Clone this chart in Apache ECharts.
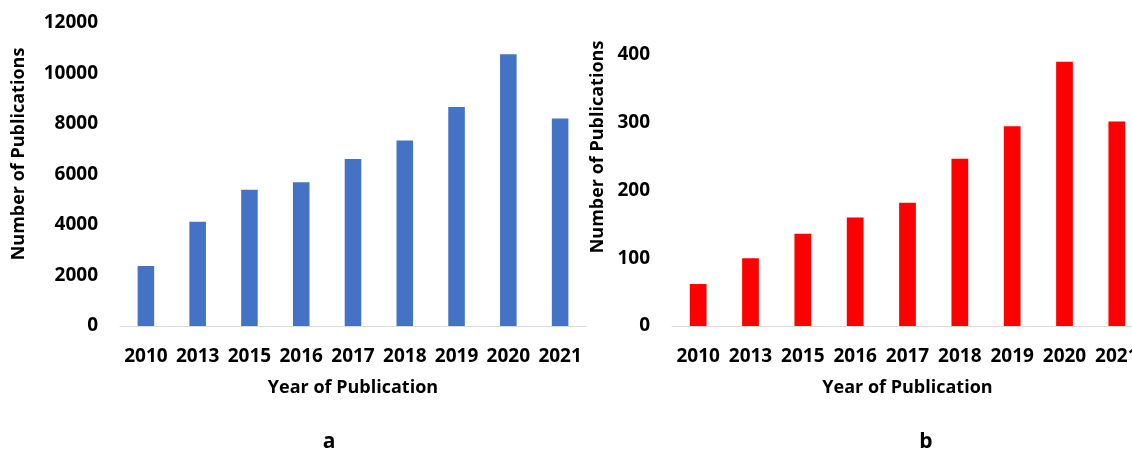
<!DOCTYPE html>
<html>
<head>
<meta charset="utf-8">
<script src="https://cdn.jsdelivr.net/npm/echarts@6/dist/echarts.min.js"></script>
<style>
html,body{margin:0;padding:0;background:#fff;}
#chart{width:1132px;height:450px;}
</style>
</head>
<body>
<div id="chart"></div>
<script>
var years = ['2010','2013','2015','2016','2017','2018','2019','2020','2021'];
var publicationsA = [2380, 4130, 5400, 5690, 6610, 7350, 8670, 10760, 8220];
var publicationsB = [62, 100, 136, 160, 182, 247, 295, 390, 302];
var yTicksA = {min: 0, max: 12000, interval: 2000};
var yTicksB = {min: 0, max: 400, interval: 100};
var xTitle = 'Year of Publication';
var yTitle = 'Number of Publications';
var panelLabels = ['a', 'b'];

var FONT = '"Open Sans", "Liberation Sans", sans-serif';
var TXT = '#000000';

var chart = echarts.init(document.getElementById('chart'), null, {renderer: 'canvas'});

function xAxisFor(idx) {
  return {
    type: 'category', gridIndex: idx, data: years,
    axisLine: {show: true, lineStyle: {color: '#D9D9D9', width: 1}},
    axisTick: {show: false},
    axisLabel: {color: TXT, fontFamily: FONT, fontWeight: 'bold', fontSize: 19, margin: 21, interval: 0, hideOverlap: false},
    name: xTitle, nameLocation: 'middle', nameGap: 53,
    nameTextStyle: {color: TXT, fontFamily: FONT, fontWeight: 'bold', fontSize: 18}
  };
}
function yAxisFor(idx, t) {
  return {
    type: 'value', gridIndex: idx, min: t.min, max: t.max, interval: t.interval,
    axisLine: {show: false}, axisTick: {show: false}, splitLine: {show: false},
    axisLabel: {color: TXT, fontFamily: FONT, fontWeight: 'bold', fontSize: 19, margin: 22,
      formatter: function (v) { return String(v); }}
  };
}

chart.setOption({
  animation: false,
  backgroundColor: '#ffffff',
  grid: [
    {left: 120, top: 23, width: 466, height: 303, containLabel: false, outerBoundsMode: 'none'},
    {left: 672, top: 55, width: 471, height: 271, containLabel: false, outerBoundsMode: 'none'}
  ],
  xAxis: [xAxisFor(0), xAxisFor(1)],
  yAxis: [yAxisFor(0, yTicksA), yAxisFor(1, yTicksB)],
  series: [
    {type: 'bar', xAxisIndex: 0, yAxisIndex: 0, data: publicationsA, barWidth: '32%',
     itemStyle: {color: '#4472C4'}},
    {type: 'bar', xAxisIndex: 1, yAxisIndex: 1, data: publicationsB, barWidth: '32%',
     itemStyle: {color: '#FF0000'}}
  ],
  graphic: [
    {type: 'text', x: 19, y: 154, rotation: Math.PI / 2,
     style: {text: yTitle, fill: TXT, font: 'bold 18px ' + FONT, textAlign: 'center', textVerticalAlign: 'middle'}},
    {type: 'text', x: 598, y: 147, rotation: Math.PI / 2,
     style: {text: yTitle, fill: TXT, font: 'bold 18px ' + FONT, textAlign: 'center', textVerticalAlign: 'middle'}},
    {type: 'text', x: 329, y: 442,
     style: {text: panelLabels[0], fill: TXT, font: 'bold 21px ' + FONT, textAlign: 'center', textVerticalAlign: 'middle'}},
    {type: 'text', x: 926, y: 442,
     style: {text: panelLabels[1], fill: TXT, font: 'bold 21px ' + FONT, textAlign: 'center', textVerticalAlign: 'middle'}}
  ]
});
</script>
</body>
</html>
